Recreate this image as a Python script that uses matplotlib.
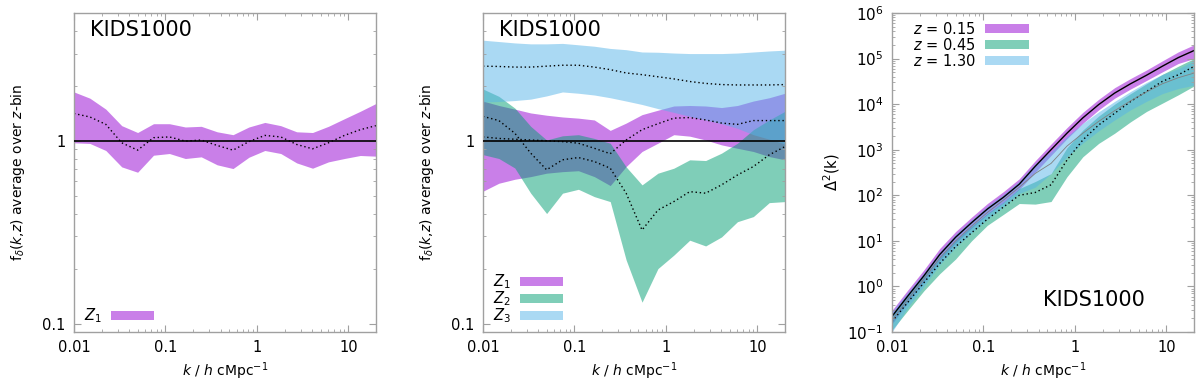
import matplotlib
matplotlib.use("Agg")
import matplotlib.pyplot as plt
from matplotlib.patches import Patch
from matplotlib.ticker import LogLocator, FixedLocator, FixedFormatter, NullFormatter, LogFormatterSciNotation

# ---------------- data ----------------
k = [0.01, 0.01492, 0.02227, 0.03323, 0.04959, 0.07399, 0.1104, 0.1648, 0.2459, 0.3669,
     0.5475, 0.8170, 1.219, 1.819, 2.715, 4.051, 6.045, 9.020, 13.46, 20.0]

# panel 1: Z1 only
p1_lo = [0.975, 0.967, 0.885, 0.72, 0.673, 0.834, 0.852, 0.80, 0.817, 0.739,
         0.705, 0.813, 0.885, 0.852, 0.757, 0.708, 0.767, 0.80, 0.831, 0.824]
p1_hi = [1.85, 1.71, 1.49, 1.21, 1.11, 1.24, 1.24, 1.19, 1.20, 1.12,
         1.08, 1.19, 1.26, 1.21, 1.12, 1.11, 1.20, 1.32, 1.45, 1.60]
p1_mid = [1.41, 1.35, 1.23, 0.975, 0.889, 1.04, 1.05, 0.996, 1.01, 0.943,
          0.889, 0.99, 1.07, 1.05, 0.955, 0.904, 0.975, 1.07, 1.15, 1.21]

# panel 2: Z1, Z2, Z3
z1_hi = [1.65, 1.56, 1.49, 1.42, 1.38, 1.35, 1.33, 1.30, 1.14, 1.25,
         1.39, 1.47, 1.55, 1.56, 1.55, 1.52, 1.56, 1.65, 1.72, 1.82]
z1_lo = [0.53, 0.586, 0.616, 0.637, 0.665, 0.678, 0.686, 0.637, 0.569, 0.723,
         0.874, 0.97, 1.08, 1.06, 1.01, 0.95, 0.91, 0.874, 0.82, 0.787]
z1_mid = [1.05, 1.03, 1.02, 1.01, 1.00, 0.99, 0.97, 0.91, 0.85, 1.01,
          1.15, 1.24, 1.33, 1.34, 1.30, 1.25, 1.23, 1.29, 1.29, 1.29]

z2_hi = [1.92, 1.75, 1.51, 1.20, 1.01, 1.065, 1.08, 1.03, 0.97, 0.72,
         0.574, 0.665, 0.708, 0.787, 0.78, 0.856, 0.97, 1.15, 1.30, 1.45]
z2_lo = [0.84, 0.80, 0.71, 0.517, 0.40, 0.517, 0.543, 0.495, 0.465, 0.223,
         0.131, 0.20, 0.237, 0.286, 0.266, 0.298, 0.361, 0.385, 0.459, 0.465]
z2_mid = [1.36, 1.29, 1.10, 0.856, 0.694, 0.787, 0.81, 0.77, 0.708, 0.517,
          0.325, 0.418, 0.465, 0.527, 0.517, 0.574, 0.65, 0.723, 0.838, 0.93]

z3_hi = [3.55, 3.49, 3.43, 3.39, 3.39, 3.41, 3.35, 3.29, 3.20, 3.15,
         3.06, 3.05, 3.02, 3.00, 3.00, 3.00, 3.02, 3.06, 3.10, 3.13]
z3_lo = [1.63, 1.64, 1.66, 1.69, 1.76, 1.85, 1.82, 1.78, 1.72, 1.65,
         1.58, 1.50, 1.43, 1.36, 1.30, 1.24, 1.17, 1.08, 1.02, 0.96]
z3_mid = [2.56, 2.55, 2.53, 2.53, 2.56, 2.59, 2.59, 2.53, 2.45, 2.35,
          2.30, 2.24, 2.18, 2.11, 2.06, 2.03, 2.02, 2.02, 2.02, 2.03]

# panel 3: Delta^2(k)
pk015_mid = [0.22, 0.62, 1.7, 5, 12, 25, 50, 90, 175, 430,
             1000, 2300, 5000, 9800, 17500, 28000, 43000, 68000, 105000, 150000]
pk015_lo = [0.15, 0.45, 1.25, 3.7, 9, 19, 38, 68, 135, 320,
            750, 1750, 3800, 7500, 13500, 21500, 33000, 51000, 78000, 100000]
pk015_hi = [0.30, 0.84, 2.3, 6.8, 16, 33, 66, 120, 230, 570,
            1330, 3050, 6600, 12800, 23000, 36500, 56000, 89000, 140000, 200000]

pk045_mid = [0.17, 0.45, 1.2, 3.2, 7.5, 15, 30, 55, 100, 115,
             170, 590, 1640, 3500, 6300, 11400, 19000, 31600, 44000, 67000]
pk045_lo = [0.11, 0.3, 0.8, 1.9, 4.0, 10, 22, 38, 66, 64,
            73, 255, 700, 1380, 2300, 4100, 6900, 10500, 16000, 25000]
pk045_hi = [0.25, 0.65, 1.7, 4.5, 10.5, 21, 40, 70, 140, 200,
            300, 1100, 2700, 5500, 10000, 17000, 28000, 45000, 68000, 100000]

pk130_mid = [0.18, 0.52, 1.45, 4.2, 10, 21, 42, 78, 150, 300,
             500, 1200, 2300, 4200, 7200, 11800, 18500, 28000, 38000, 48000]
pk130_lo = [0.10, 0.35, 1.0, 3.0, 7.2, 15, 30, 56, 110, 150,
            300, 700, 1400, 2600, 4500, 7500, 11500, 17000, 22000, 26000]
pk130_hi = [0.28, 0.75, 2.0, 5.8, 14, 29, 58, 105, 205, 500,
            910, 1950, 3800, 6800, 11500, 19000, 30000, 45000, 60000, 90000]

xticks = [0.01, 0.1, 1, 10]
xticklabels = ["0.01", "0.1", "1", "10"]
legend_z = [r"$Z_1$", r"$Z_2$", r"$Z_3$"]
legend_pk = [r"$z$ = 0.15", r"$z$ = 0.45", r"$z$ = 1.30"]
title = "KIDS1000"

# ---------------- style ----------------
PURPLE = "#9400D3"
GREEN = "#009E73"
BLUE = "#56B4E9"
ALPHA = 0.5
GRAY = "#a0a0a0"
DOT = (0, (1.0, 2.0))

plt.rcParams["font.family"] = ["DejaVu Sans"]
plt.rcParams["mathtext.fontset"] = "dejavusans"

fig = plt.figure(figsize=(12, 3.84), dpi=100)
W, H = 1200.0, 384.0
def add_ax(x0, x1, y0, y1):
    return fig.add_axes([x0 / W, 1 - y1 / H, (x1 - x0) / W, (y1 - y0) / H])

ax1 = add_ax(74, 376, 13, 332)
ax2 = add_ax(483, 785, 13, 332)
ax3 = add_ax(892, 1194, 13, 332)

def style_axis(ax):
    ax.set_xscale("log")
    ax.set_yscale("log")
    ax.set_xlim(0.01, 20)
    for s in ax.spines.values():
        s.set_color(GRAY)
        s.set_linewidth(1.0)
    ax.tick_params(which="both", direction="in", top=True, right=True, color=GRAY,
                   labelsize=10.5, labelcolor="black")
    ax.tick_params(which="major", length=5, width=0.8, pad=6)
    ax.tick_params(which="minor", length=2.5, width=0.6)
    ax.xaxis.set_major_locator(FixedLocator(xticks))
    ax.xaxis.set_major_formatter(FixedFormatter(xticklabels))
    ax.xaxis.set_minor_locator(LogLocator(base=10, subs=range(2, 10)))
    ax.xaxis.set_minor_formatter(NullFormatter())
    ax.set_xlabel(r"$k$ / $h$ cMpc$^{-1}$", fontsize=10, labelpad=4)

def ratio_axis(ax):
    style_axis(ax)
    ax.set_ylim(0.09, 5.0)
    ax.yaxis.set_major_locator(FixedLocator([0.1, 1]))
    ax.yaxis.set_major_formatter(FixedFormatter(["0.1", "1"]))
    ax.yaxis.set_minor_locator(LogLocator(base=10, subs=range(2, 10)))
    ax.yaxis.set_minor_formatter(NullFormatter())
    ax.set_ylabel(r"f$_\delta$($k$,$z$) average over $z$-bin", fontsize=10, labelpad=11)
    ax.axhline(1.0, color="black", lw=1.2, zorder=5)

def legend(ax, labels, colors, loc, anchor, spacing):
    handles = [Patch(facecolor=c, alpha=ALPHA, edgecolor="none") for c in colors]
    ax.legend(handles, labels, loc=loc, bbox_to_anchor=anchor, frameon=False,
              markerfirst=False, fontsize=10.5, handlelength=3.0, handleheight=0.6,
              labelspacing=spacing, handletextpad=0.6, borderaxespad=0, borderpad=0)

# ---- panel 1 ----
ratio_axis(ax1)
ax1.fill_between(k, p1_lo, p1_hi, color=PURPLE, alpha=ALPHA, lw=0)
ax1.plot(k, p1_mid, color="black", ls=DOT, lw=1.0)
legend(ax1, legend_z[:1], [PURPLE], "lower left", (0.033, 0.022), -0.12)

# ---- panel 2 ----
ratio_axis(ax2)
for lo, hi, mid, c in [(z1_lo, z1_hi, z1_mid, PURPLE),
                       (z2_lo, z2_hi, z2_mid, GREEN),
                       (z3_lo, z3_hi, z3_mid, BLUE)]:
    ax2.fill_between(k, lo, hi, color=c, alpha=ALPHA, lw=0)
for mid in [z1_mid, z2_mid, z3_mid]:
    ax2.plot(k, mid, color="black", ls=DOT, lw=1.0)
legend(ax2, legend_z, [PURPLE, GREEN, BLUE], "lower left", (0.033, 0.022), -0.12)

# ---- panel 3 ----
style_axis(ax3)
ax3.set_ylim(0.1, 1e6)
ax3.yaxis.set_major_locator(LogLocator(base=10, numticks=10))
ax3.yaxis.set_major_formatter(LogFormatterSciNotation())
ax3.yaxis.set_minor_locator(LogLocator(base=10, subs=range(2, 10), numticks=20))
ax3.yaxis.set_minor_formatter(NullFormatter())
ax3.tick_params(axis="y", labelsize=11)
ax3.set_ylabel(r"$\Delta^2$(k)", fontsize=10.5, labelpad=4)
ax3.fill_between(k, pk015_lo, pk015_hi, color=PURPLE, alpha=ALPHA, lw=0)
ax3.fill_between(k, pk045_lo, pk045_hi, color=GREEN, alpha=ALPHA, lw=0)
ax3.fill_between(k, pk130_lo, pk130_hi, color=BLUE, alpha=ALPHA, lw=0)
ax3.plot(k, pk015_mid, color="black", lw=1.0)
ax3.plot(k, pk045_mid, color="black", ls=DOT, lw=1.0)
ax3.plot(k, pk130_mid, color="#808080", lw=0.6)
legend(ax3, legend_pk, [PURPLE, GREEN, BLUE], "upper left", (0.07, 0.975), 0.0)

# titles placed in figure pixel coordinates (from top-left)
for xp, yp in [(90, 30), (499, 30), (1043, 300)]:
    fig.text(xp / W, 1 - yp / H, title, fontsize=15, va="center", ha="left")

fig.savefig("out.png", dpi=100)
